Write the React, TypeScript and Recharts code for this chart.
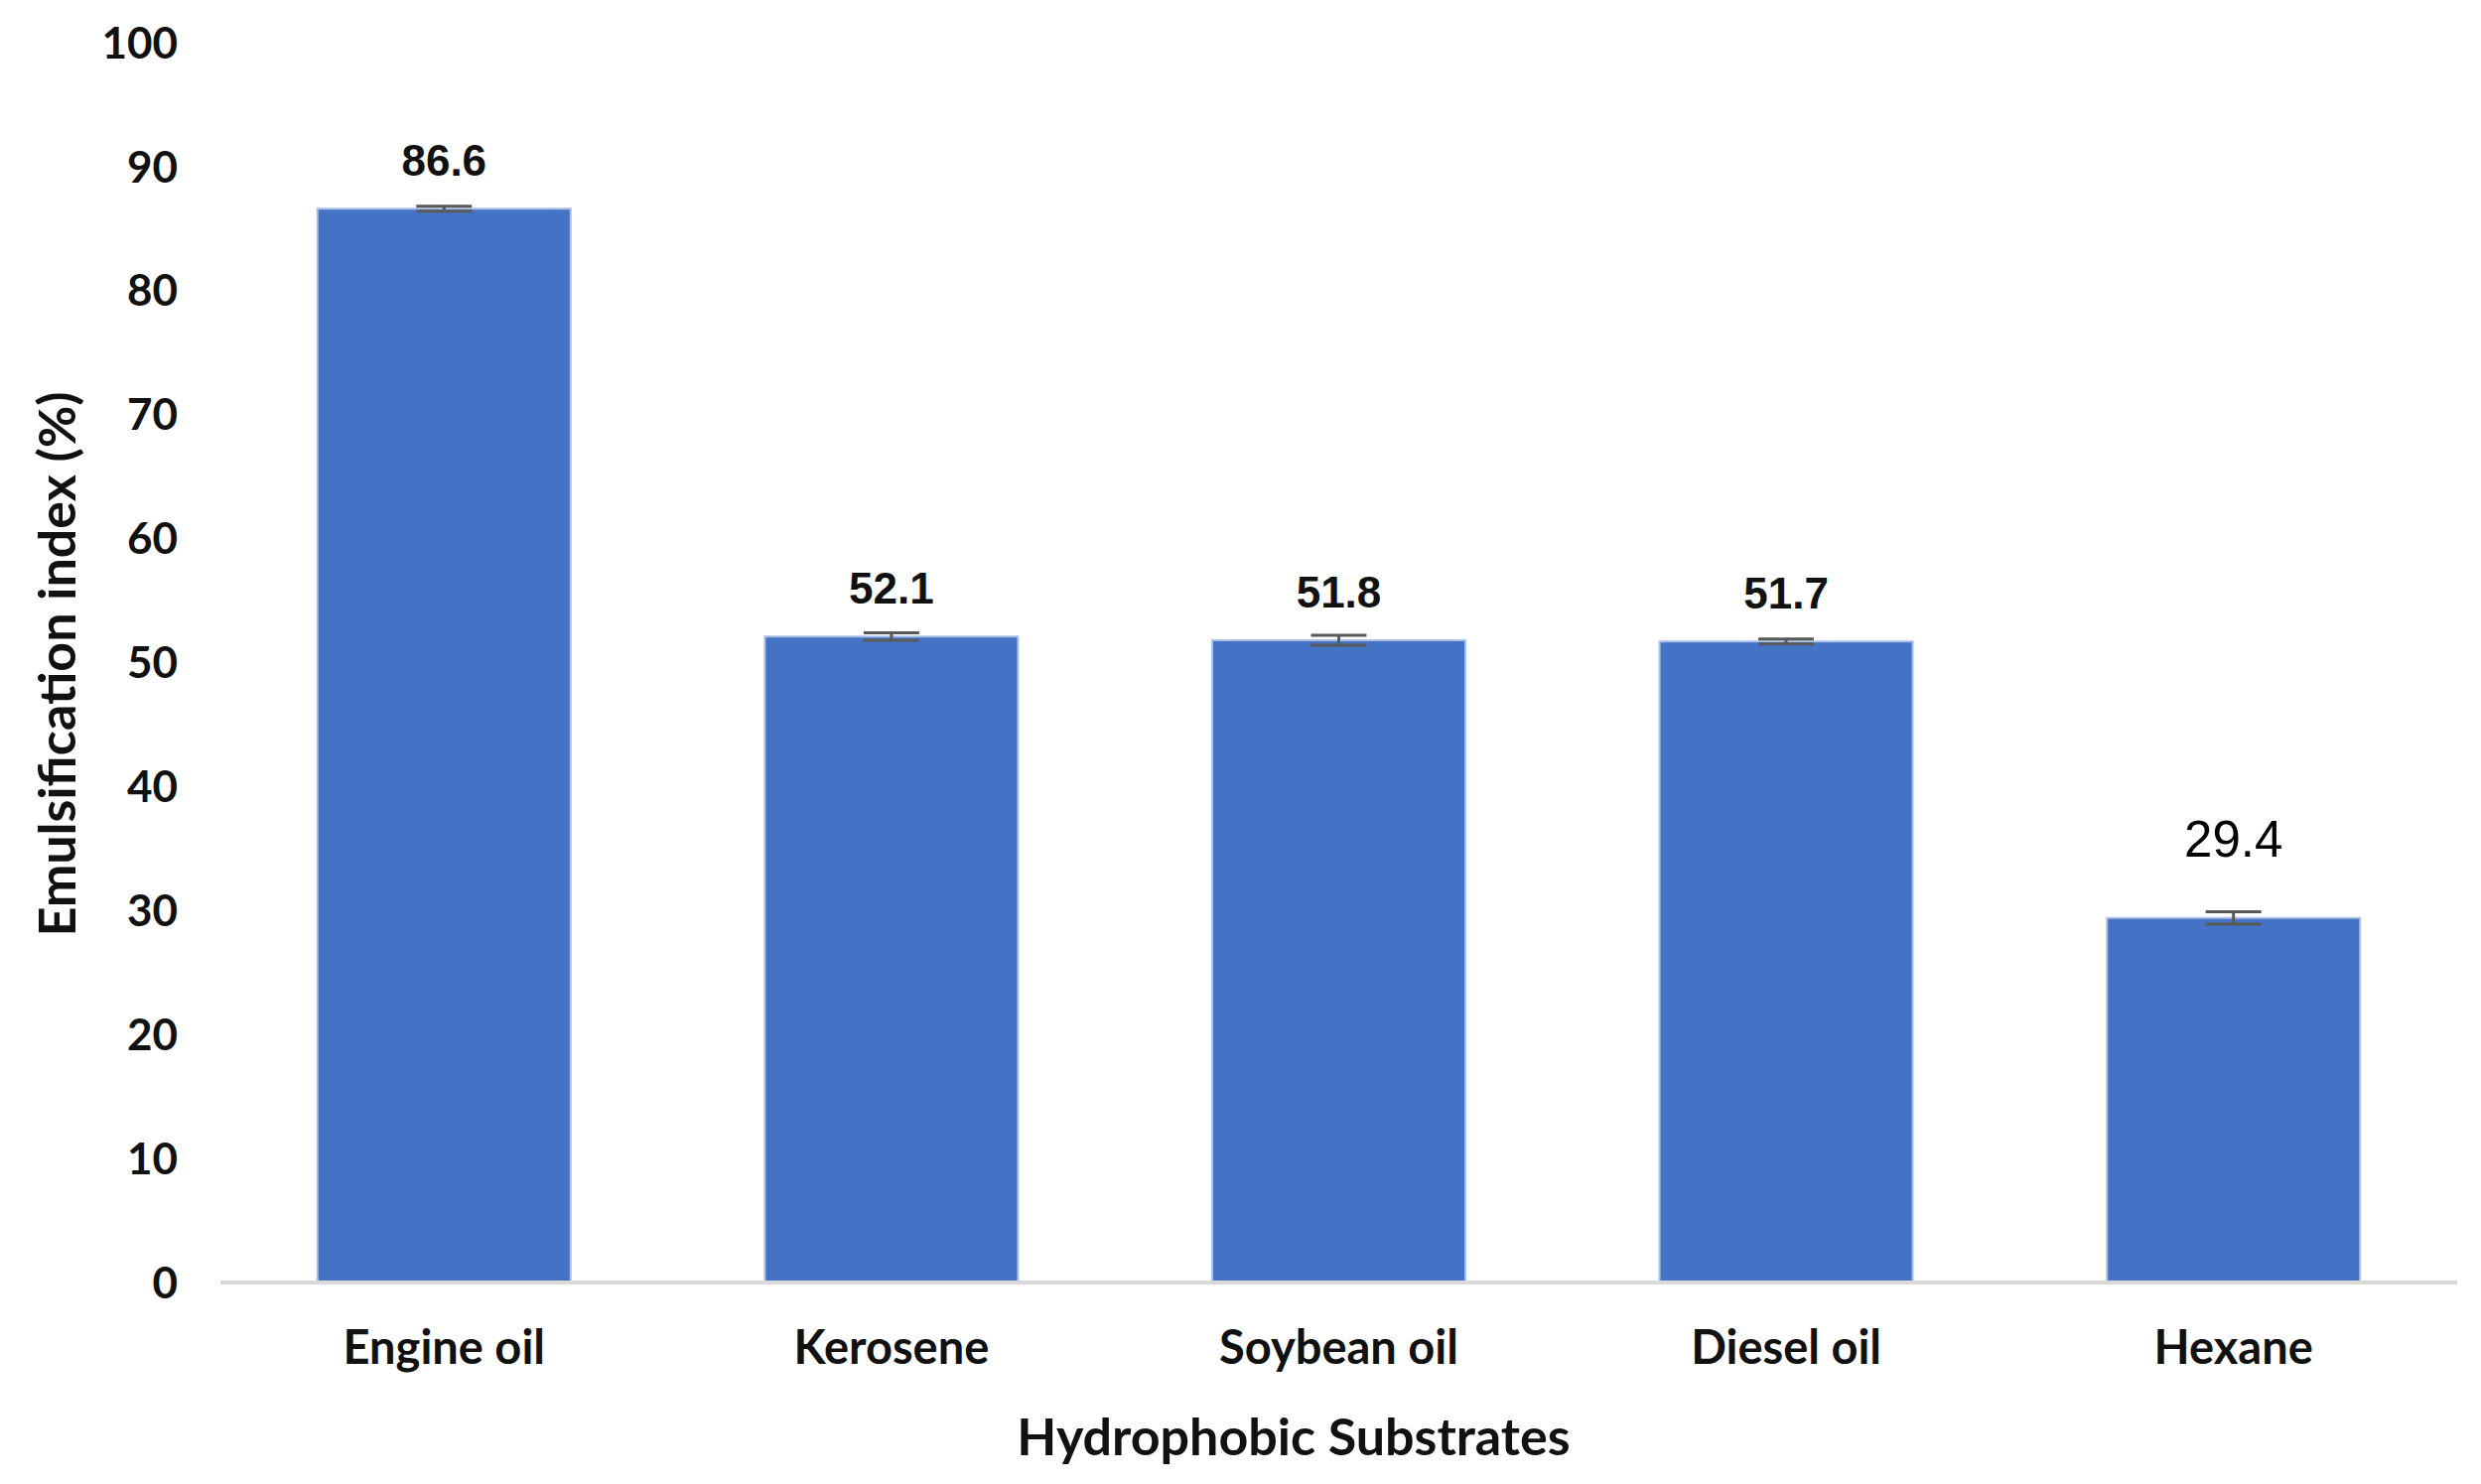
import React from "react";
import { BarChart, Bar, XAxis, YAxis, ErrorBar, LabelList, Label } from "recharts";

const categories = ["Engine oil", "Kerosene", "Soybean oil", "Diesel oil", "Hexane"];
const values = [86.6, 52.1, 51.8, 51.7, 29.4];
const errors = [0.2, 0.3, 0.4, 0.2, 0.5];
const yTicks = [0, 10, 20, 30, 40, 50, 60, 70, 80, 90, 100];

const data = categories.map((name, i) => ({ name, value: values[i], err: errors[i] }));

const FONT = "Lato, 'Open Sans', sans-serif";

const renderValueLabel = (props: any) => {
  const { x, y, width, value, index } = props;
  const cx = x + width / 2;
  if (index === 4) {
    return (
      <text x={cx} y={y - 62} textAnchor="middle" fontFamily="'Liberation Sans', Arial, sans-serif" fontSize={51} fill="#000">
        {value}
      </text>
    );
  }
  return (
    <text x={cx} y={y - 33} textAnchor="middle" fontFamily="'Liberation Sans', Arial, sans-serif" fontWeight="bold" fontSize={44} fill="#111">
      {value}
    </text>
  );
};

export default function App() {
  return (
    <div style={{ background: "#fff" }}>
      <BarChart
        width={2483}
        height={1479}
        data={data}
        margin={{ top: 35, right: 16, bottom: 15, left: 0 }}
        barCategoryGap="21.7%"
      >
        <XAxis
          dataKey="name"
          height={180}
          axisLine={{ stroke: "#d9d9d9", strokeWidth: 4 }}
          tickLine={false}
          tickMargin={43}
          tick={{ fontFamily: FONT, fontWeight: 700, fontSize: 47, fill: "#111" }}
          interval={0}
        >
          <Label
            content={() => (
              <text x={1295} y={1458} textAnchor="middle" fontFamily={FONT} fontWeight={700} fontSize={52} fill="#111">
                Hydrophobic Substrates
              </text>
            )}
          />
        </XAxis>
        <YAxis
          width={214}
          domain={[0, 100]}
          ticks={yTicks}
          axisLine={false}
          tickLine={false}
          tickMargin={37}
          interval={0}
          tick={{ fontFamily: FONT, fontWeight: 700, fontSize: 44, fill: "#111" }}
        >
          <Label
            content={() => (
              <text
                x={48}
                y={661}
                textAnchor="middle"
                dominantBaseline="central"
                transform="rotate(-90 48 661)"
                fontFamily={FONT}
                fontWeight={700}
                fontSize={52}
                fill="#111"
              >
                Emulsification index (%)
              </text>
            )}
          />
        </YAxis>
        <Bar dataKey="value" fill="#4472C4" stroke="#a9c0e8" strokeWidth={2} isAnimationActive={false}>
          <ErrorBar dataKey="err" width={28} stroke="#595959" strokeWidth={3} direction="y" />
          <LabelList dataKey="value" content={renderValueLabel} />
        </Bar>
      </BarChart>
    </div>
  );
}
